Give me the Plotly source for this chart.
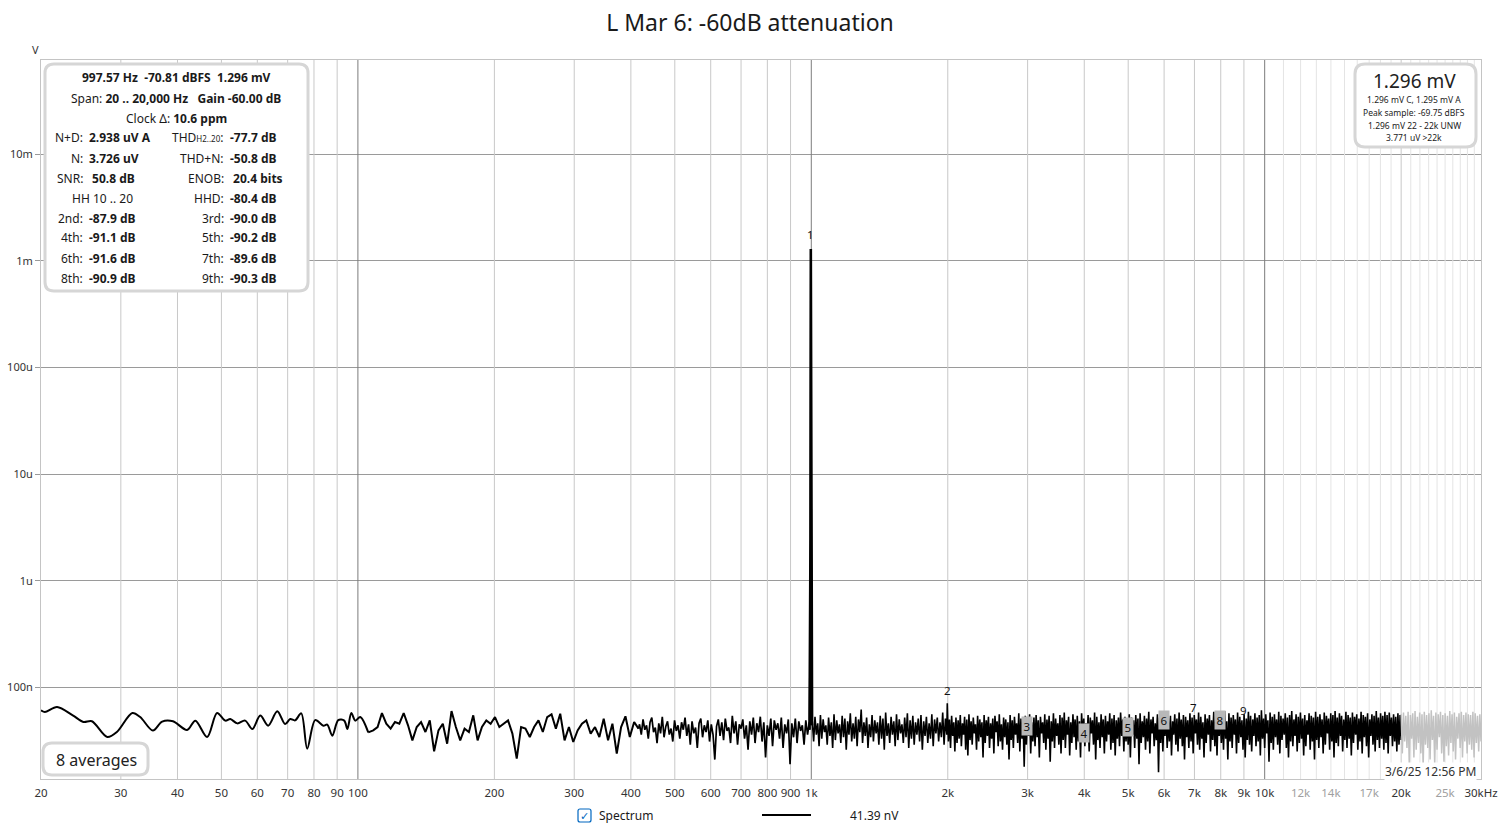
import numpy as np
import plotly.graph_objects as go

# ---------------- data ----------------
title_text = "L Mar 6: -60dB attenuation"

# 20 Hz .. 105 Hz, read point by point
low_freq_hz = [20.0, 20.4, 21.7, 23.5, 24.8, 25.9, 28.0, 29.4, 31.8, 33.1,
               35.3, 37.0, 39.1, 42.0, 43.8, 46.5, 48.9, 51.0, 52.3, 54.2,
               56.4, 58.5, 60.9, 63.4, 66.4, 69.1, 70.9, 72.7, 75.0, 77.3,
               80.5, 83.9, 85.6, 87.8, 90.5, 93.3, 94.8, 96.7, 98.7, 101.2,
               105.4]
low_level_nv = [60.8, 58.6, 65.3, 54.6, 47.3, 48.0, 34.2, 38.1, 57.4, 52.6,
                39.3, 47.7, 48.0, 39.8, 48.7, 34.2, 57.4, 48.7, 50.4, 45.9,
                48.7, 40.6, 54.3, 43.7, 59.6, 45.2, 50.4, 49.0, 57.0, 26.6,
                49.3, 43.7, 44.7, 35.2, 49.3, 48.7, 40.6, 57.4, 48.7, 52.6,
                37.8]

# 108 Hz .. 416 Hz (bins evenly spread on the log axis)
mid_span_hz = [108.1, 415.8]
mid_level_nv = [39.5, 42.4, 57.4, 45.6, 41.0, 47.3, 45.6, 57.4, 44.0, 31.8,
                42.4, 47.3, 38.1, 49.0, 25.1, 39.5, 45.6, 29.6, 59.9, 42.4,
                31.8, 41.0, 38.1, 54.6, 31.8, 42.4, 49.0, 45.6, 52.6, 42.4,
                45.6, 49.0, 36.8, 21.4, 42.4, 41.0, 34.2, 42.4, 49.0, 38.1,
                52.6, 55.8, 41.0, 56.6, 31.8, 42.4, 30.7, 39.5, 45.6, 49.0,
                36.8, 42.4, 34.2, 50.8, 31.8, 45.6, 23.9, 42.4, 53.5, 34.2,
                47.3, 41.0]

# 418 Hz .. 990 Hz
upper_span_hz = [418.0, 990.0]
upper_level_nv = [45, 36, 50, 40, 44, 33, 47, 52, 38, 42, 30, 46, 37, 53, 34, 43, 48, 36, 41, 31,
                  49, 39, 44, 33, 47, 40, 52, 35, 45, 29, 48, 37, 42, 27, 46, 51, 34, 44, 38, 49,
                  31, 45, 36, 21, 43, 50, 35, 47, 32, 51, 39, 42, 30, 54, 37, 48, 29, 45, 41, 50,
                  33, 44, 26, 48, 36, 52, 30, 46, 38, 53, 31, 47, 22, 44, 35, 51, 28, 49, 40, 46,
                  33, 52, 27, 45, 37, 50, 19, 46, 34, 51, 30, 48, 39, 44, 29, 49, 36, 47]

# fundamental
peak_freq_hz = [991.0, 995.9, 997.57, 999.3, 1004.0]
peak_level_nv = [40.0, 2500.0, 1296000.0, 2500.0, 44.0]

# 1.005 kHz .. 1.99 kHz
khz_span_hz = [1005.0, 1990.0]
khz_level_nv = [48, 31, 53, 36, 46, 28, 55, 33, 50, 38, 44, 29, 52, 35, 47, 27, 56, 32, 49, 37,
                45, 30, 54, 34, 51, 26, 48, 36, 57, 31, 46, 33, 53, 28, 50, 38, 62, 30, 47, 35,
                52, 27, 45, 34, 55, 31, 49, 37, 47, 29, 54, 33, 51, 26, 58, 35, 46, 30, 53, 36,
                48, 28, 56, 32, 50, 37, 45, 30, 52, 34, 57, 27, 49, 33, 54, 29, 47, 36, 51, 31,
                55, 26, 48, 35, 53, 30, 46, 33, 56, 28, 50, 37, 52, 31, 47, 34, 58, 29, 51, 36]

# 2 kHz .. 20 kHz
hf_span_hz = [1995.0, 20000.0]
hf_level_nv = [71, 31, 50, 27, 54, 35, 47, 25, 52, 30, 49, 33, 55, 28, 46, 36, 53, 26, 50, 23,
               56, 32, 48, 29, 52, 37, 45, 26, 54, 31, 50, 34, 47, 22, 55, 30, 49, 35, 53, 27,
               46, 33, 51, 24, 54, 38, 48, 28, 56, 31, 45, 26, 52, 34, 50, 29, 47, 21, 55, 32,
               49, 27, 53, 36, 46, 30, 57, 25, 51, 33, 48, 18, 54, 29, 50, 35, 56, 24, 47, 31,
               52, 28, 55, 34, 49, 22, 53, 37, 47, 30, 56, 26, 50, 33, 54, 20, 48, 31, 57, 27,
               51, 35, 46, 29, 55, 24, 52, 32, 58, 27, 49, 36, 53, 23, 47, 30, 56, 34, 50, 26,
               54, 31, 48, 22, 57, 35, 51, 28, 46, 33, 55, 25, 52, 37, 49, 29, 58, 21, 53, 32,
               47, 27, 56, 34, 50, 24, 54, 31, 48, 36, 57, 26, 51, 30, 55, 23, 49, 33, 52, 28,
               58, 35, 50, 25, 53, 31, 47, 29, 56, 22, 52, 36, 49, 27, 55, 33, 51, 19, 57, 30,
               48, 34, 54, 26, 51, 31, 59, 24, 50, 37, 53, 28, 46, 32, 56, 16, 52, 30, 55, 25,
               49, 35, 57, 27, 52, 31, 54, 23, 48, 36, 56, 29, 51, 25, 58, 33, 50, 28, 55, 21,
               53, 34, 49, 27, 57, 31, 52, 24, 55, 37, 50, 29, 58, 26, 53, 33, 47, 22, 56, 30,
               51, 36, 55, 25, 49, 32, 59, 28, 53, 23, 56, 35, 50, 30, 54, 26, 60, 33, 48, 21,
               57, 31, 52, 27, 55, 36, 50, 24, 58, 30, 53, 34, 49, 26, 56, 22, 51, 32, 59, 29,
               54, 25, 50, 35, 57, 28, 52, 31, 55, 23, 61, 33, 51, 27, 56, 37, 49, 20, 58, 30,
               53, 26, 56, 34, 50, 29, 59, 24, 54, 32, 51, 36, 57, 27, 52, 22, 55, 31, 60, 28,
               50, 35, 56, 25, 53, 30, 58, 33, 51, 23, 55, 28, 49, 36, 57, 26, 54, 31, 52, 21,
               59, 32, 53, 27, 56, 34, 50, 24, 58, 29, 54, 37, 51, 26, 57, 31, 55, 22, 60, 30,
               52, 28, 57, 35, 54, 25, 50, 32, 59, 27, 55, 33, 52, 23, 58, 30, 53, 36, 56, 26,
               51, 31, 59, 24, 55, 34, 53, 28, 57, 22, 50, 35, 56, 29, 54, 25, 60, 32, 52, 27,
               57, 33, 54, 26, 59, 30, 55, 24, 58, 35, 52, 28, 56, 31, 53, 25, 57, 29, 55, 32]

# 20 kHz .. 30 kHz (outside span, drawn grey)
ultra_span_hz = [20000.0, 30000.0]
ultra_level_nv = [56, 24, 58, 31, 54, 27, 59, 19, 55, 33, 57, 22, 60, 26, 53, 30, 58, 24, 56, 18,
                  59, 29, 55, 27, 57, 21, 61, 32, 54, 19, 58, 26, 56, 34, 59, 24, 55, 20, 57, 28,
                  54, 23, 60, 30, 56, 25, 58, 21, 53, 33, 57, 27, 59, 22, 55, 31, 58, 24, 56, 29,
                  55, 26, 59, 22, 57, 30, 54, 25, 56, 31]

fundamental_hz = 997.57
harmonic_order = [1, 2, 3, 4, 5, 6, 7, 8, 9]
harmonic_label_nv = [1296000, 94.3, 43.4, 37.3, 42.4, 49.6, 64.2, 49.6, 60.8]
harmonic_boxed = [False, False, True, True, True, True, False, True, False]

x_tick_hz = [20, 30, 40, 50, 60, 70, 80, 90, 100, 200, 300, 400, 500, 600, 700, 800, 900,
             1000, 2000, 3000, 4000, 5000, 6000, 7000, 8000, 9000, 10000, 12000, 14000,
             17000, 20000, 25000, 30000]
x_tick_text = ["20", "30", "40", "50", "60", "70", "80", "90", "100", "200", "300", "400",
               "500", "600", "700", "800", "900", "1k", "2k", "3k", "4k", "5k", "6k", "7k",
               "8k", "9k", "10k", "12k", "14k", "17k", "20k", "25k", "30kHz"]
x_tick_faint = ["12k", "14k", "17k", "25k"]

y_tick_v = [1e-2, 1e-3, 1e-4, 1e-5, 1e-6, 1e-7]
y_tick_text = ["10m", "1m", "100u", "10u", "1u", "100n"]

grid_minor_hz = [30, 40, 50, 60, 70, 80, 90, 200, 300, 400, 500, 600, 700, 800, 900,
                 2000, 3000, 4000, 5000, 6000, 7000, 8000, 9000, 20000]
grid_decade_hz = [100, 1000, 10000]
grid_faint_hz = [11000, 12000, 13000, 14000, 15000, 16000, 17000, 18000, 19000,
                 21000, 22000, 23000, 24000, 25000, 26000, 27000, 28000, 29000]

info_head = ["<b>997.57 Hz  -70.81 dBFS  1.296 mV</b>",
             "Span: <b>20 .. 20,000 Hz   Gain -60.00 dB</b>",
             "Clock Δ: <b>10.6 ppm</b>"]
info_left_label = ["N+D:", "N:", "SNR:", "", "2nd:", "4th:", "6th:", "8th:"]
info_left_value = ["2.938 uV A", "3.726 uV", " 50.8 dB", "", "-87.9 dB", "-91.1 dB",
                   "-91.6 dB", "-90.9 dB"]
info_right_label = ["THD<span style='font-size:8px'>H2..20</span>:", "THD+N:", "ENOB:",
                    "HHD:", "3rd:", "5th:", "7th:", "9th:"]
info_right_value = ["-77.7 dB", "-50.8 dB", " 20.4 bits", "-80.4 dB", "-90.0 dB",
                    "-90.2 dB", "-89.6 dB", "-90.3 dB"]
info_hh = "HH 10 .. 20"

level_big = "1.296 mV"
level_lines = ["1.296 mV C, 1.295 mV A", "Peak sample: -69.75 dBFS",
               "1.296 mV 22 - 22k UNW", "3.771 uV >22k"]
averages_text = "8 averages"
stamp_text = "3/6/25 12:56 PM"
legend_name = "Spectrum"
legend_value = "41.39 nV"

# ---------------- figure geometry ----------------
W, H = 1500, 827
PX0, PX1, PY0, PY1 = 41, 1481, 60, 779
FONT = "Noto Sans, Open Sans, sans-serif"


def pp(x, y):
    return (x - PX0) / (PX1 - PX0), (PY1 - y) / (PY1 - PY0)


def rrect_path(x0, y0, x1, y1, r):
    pts = [("M", [(x0 + r, y0)]), ("L", [(x1 - r, y0)]), ("Q", [(x1, y0), (x1, y0 + r)]),
           ("L", [(x1, y1 - r)]), ("Q", [(x1, y1), (x1 - r, y1)]), ("L", [(x0 + r, y1)]),
           ("Q", [(x0, y1), (x0, y1 - r)]), ("L", [(x0, y0 + r)]), ("Q", [(x0, y0), (x0 + r, y0)])]
    s = ""
    for cmd, ps in pts:
        s += cmd + " " + " ".join("%.5f,%.5f" % pp(a, b) for a, b in ps) + " "
    return s + "Z"


def span(rng, vals):
    return list(np.geomspace(rng[0], rng[1], len(vals)))


fig = go.Figure()


def vlines(freqs):
    xs, ys = [], []
    for f in freqs:
        xs += [f, f, None]
        ys += [1e-9, 1.0, None]
    return xs, ys


for freqs, col in [(grid_faint_hz, "#e4e4e4"), (grid_minor_hz, "#c8c8c8"), (grid_decade_hz, "#7c7c7c")]:
    gx, gy = vlines(freqs)
    fig.add_trace(go.Scatter(x=gx, y=gy, mode="lines", line=dict(color=col, width=1),
                             hoverinfo="skip", showlegend=False))

nv = 1e-9
fig.add_trace(go.Scatter(x=low_freq_hz, y=[v * nv for v in low_level_nv], mode="lines",
                         line=dict(color="black", width=2, shape="spline", smoothing=0.9),
                         showlegend=False, hoverinfo="skip"))
fig.add_trace(go.Scatter(x=[low_freq_hz[-1]] + span(mid_span_hz, mid_level_nv),
                         y=[v * nv for v in [low_level_nv[-1]] + mid_level_nv], mode="lines",
                         line=dict(color="black", width=2), showlegend=False, hoverinfo="skip"))
fig.add_trace(go.Scatter(x=[mid_span_hz[1]] + span(upper_span_hz, upper_level_nv),
                         y=[v * nv for v in [mid_level_nv[-1]] + upper_level_nv], mode="lines",
                         line=dict(color="black", width=1.7), showlegend=False, hoverinfo="skip"))
dense_x = ([upper_span_hz[1]] + peak_freq_hz + span(khz_span_hz, khz_level_nv) +
           span(hf_span_hz, hf_level_nv))
dense_y = ([upper_level_nv[-1]] + peak_level_nv + khz_level_nv + hf_level_nv)
fig.add_trace(go.Scatter(x=dense_x, y=[v * nv for v in dense_y], mode="lines",
                         line=dict(color="black", width=1.6), showlegend=False, hoverinfo="skip"))
fig.add_trace(go.Scatter(x=peak_freq_hz, y=[v * nv for v in peak_level_nv], mode="lines",
                         line=dict(color="black", width=2.6), showlegend=False, hoverinfo="skip"))
fig.add_trace(go.Scatter(x=span(ultra_span_hz, ultra_level_nv), y=[v * nv for v in ultra_level_nv],
                         mode="lines", line=dict(color="#c2c2c2", width=1.5),
                         showlegend=False, hoverinfo="skip"))

ticktext = [("<span style='color:#a0a0a0'>%s</span>" % t) if t in x_tick_faint else t
            for t in x_tick_text]

fig.update_layout(
    width=W, height=H,
    margin=dict(l=PX0, r=W - PX1, t=PY0, b=H - PY1, pad=0, autoexpand=False),
    paper_bgcolor="white", plot_bgcolor="white", hovermode=False, showlegend=False,
    font=dict(family=FONT, color="#222222", size=11),
    title=dict(text=title_text, x=0.5, xanchor="center", y=1 - 23 / H, yanchor="middle",
               font=dict(size=23, color="#1a1a1a", family=FONT)),
    xaxis=dict(type="log", range=[np.log10(20), np.log10(30000)], tickvals=x_tick_hz,
               ticktext=ticktext, showgrid=False, zeroline=False, showline=True, mirror=True,
               linecolor="#c4c4c4", linewidth=1, ticks="", automargin=False,
               ticklabelstandoff=3, tickfont=dict(size=11.5, color="#333333")),
    yaxis=dict(type="log", range=[-7.860, -1.115], tickvals=y_tick_v, ticktext=y_tick_text,
               showgrid=True, gridcolor="#9a9a9a", gridwidth=1, zeroline=False, showline=True,
               mirror=True, linecolor="#c4c4c4", linewidth=1, ticks="outside", ticklen=5,
               tickcolor="#9a9a9a", automargin=False, tickfont=dict(size=11, color="#333333")),
)

shapes = []
anns = []

for (x0, y0, x1, y1, r) in [(45, 64, 308, 291, 9), (1355, 64, 1476, 147, 10), (43, 743, 148, 775, 9)]:
    shapes.append(dict(type="path", xref="paper", yref="paper", path=rrect_path(x0, y0, x1, y1, r),
                       line=dict(color="#d6d6d6", width=3), fillcolor="white", layer="above"))


def ann(x, y, text, size=12, anchor="center", color="#1a1a1a", **kw):
    px, py = pp(x, y)
    d = dict(xref="paper", yref="paper", x=px, y=py, text=text, showarrow=False,
             xanchor=anchor, yanchor="middle", font=dict(size=size, color=color, family=FONT))
    d.update(kw)
    anns.append(d)


for i, t in enumerate(info_head):
    ann(176, 78 + 20 * i, t, size=12)
for i in range(len(info_left_label)):
    y = 138 + 20 * i
    if info_left_label[i]:
        ann(85, y, info_left_label[i], anchor="right")
        ann(87, y, "<b>%s</b>" % info_left_value[i], anchor="left")
    ann(226, y, info_right_label[i], anchor="right")
    ann(228, y, "<b>%s</b>" % info_right_value[i], anchor="left")
ann(102, 198, info_hh, size=12)

ann(1414, 81, level_big, size=19, color="#222222")
for i, t in enumerate(level_lines):
    ann(1414, 100 + 12.6 * i, t, size=8.5, color="#222222")

ann(96, 760, averages_text, size=16, color="#222222")
ann(1477, 771, stamp_text, size=12, anchor="right", color="#333333", bgcolor="white", borderpad=0)
ann(35, 49, "V", size=11, color="#333333")

for n, lv, boxed in zip(harmonic_order, harmonic_label_nv, harmonic_boxed):
    d = dict(xref="x", yref="y", x=np.log10(fundamental_hz * n), y=np.log10(lv * nv),
             text=str(n), showarrow=False, xanchor="center", yanchor="middle",
             font=dict(size=11.5, color="#111111", family=FONT))
    if n == 1:
        d["yshift"] = 14
    if boxed:
        d.update(bgcolor="#b8b8b8", borderpad=1.5)
    anns.append(d)

shapes.append(dict(type="path", xref="paper", yref="paper", path=rrect_path(578, 809, 591, 822, 2),
                   line=dict(color="#0067c0", width=1.2), fillcolor="white", layer="above"))
ann(584.5, 815.5, "✓", size=11, color="#0067c0")
ann(597, 816, legend_name, size=12, anchor="left")
x0p, yp = pp(762, 815)
x1p, _ = pp(811, 815)
shapes.append(dict(type="line", xref="paper", yref="paper", x0=x0p, x1=x1p, y0=yp, y1=yp,
                   line=dict(color="black", width=2), layer="above"))
ann(874, 816, legend_value, size=12)

fig.update_layout(shapes=shapes, annotations=anns)
fig.write_html("out.html", config={"displayModeBar": False},
               post_script="document.body.style.margin='0px';")
